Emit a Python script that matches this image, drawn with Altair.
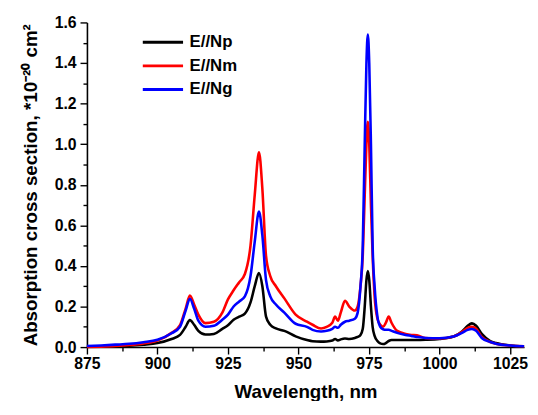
import altair as alt
import pandas as pd

wavelength = [875, 880, 885, 890, 895, 900, 905, 908, 910, 911.5, 913, 914.5, 917,
              920, 923, 925, 927, 929, 931, 933, 934.5, 936, 937.2, 938.5, 940, 942, 945,
              949, 953, 955, 958, 960, 962, 963, 964, 965, 966.5, 968, 970, 971, 972,
              972.8, 973.5, 974.1, 974.6, 975.1, 975.7, 976.3, 977, 978, 979, 980, 981, 982, 983,
              985, 988, 990, 992, 995, 1000, 1005, 1008, 1010, 1011.5, 1013, 1015, 1018, 1020,
              1025, 1030]

np_vals = [.004, .004, .005, .007, .012, .02, .04, .06, .1, .133, .11, .08, .062,
           .065, .09, .108, .135, .15, .165, .22, .3, .365, .3, .15, .11, .092, .08,
           .053, .035, .029, .027, .028, .032, .04, .033, .038, .042, .04, .045, .05, .06,
           .09, .2, .33, .375, .33, .2, .1, .055, .03, .018, .015, .02, .03, .035,
           .035, .035, .035, .035, .036, .04, .052, .077, .105, .117, .105, .065, .03, .02,
           .008, .004]

nm_vals = [.0, .002, .005, .01, .018, .032, .07, .108, .19, .254, .21, .16, .118,
           .125, .17, .235, .28, .32, .36, .5, .75, .96, .78, .45, .35, .3, .24,
           .16, .125, .11, .092, .1, .12, .15, .13, .17, .228, .2, .18, .2, .3,
           .45, .75, 1.0, 1.11, 1.0, .7, .45, .25, .14, .11, .1, .12, .15, .12,
           .08, .065, .06, .058, .045, .042, .052, .075, .095, .1, .09, .05, .025, .017,
           .008, .004]

ng_vals = [.005, .008, .012, .016, .024, .036, .068, .1, .18, .238, .19, .13, .1,
           .105, .135, .16, .2, .225, .25, .35, .52, .668, .55, .33, .25, .21, .17,
           .115, .1, .085, .077, .08, .09, .1, .095, .11, .125, .13, .14, .17, .3,
           .5, 1.0, 1.4, 1.54, 1.4, 1.0, .5, .3, .15, .1, .088, .085, .085, .08,
           .07, .06, .055, .05, .045, .044, .052, .07, .085, .089, .08, .045, .025, .017,
           .008, .004]

series_names = ["E//Np", "E//Nm", "E//Ng"]
series_colors = ["#000000", "#ff0000", "#0000ff"]

x_ticks = [875 + 12.5 * i for i in range(13)]
y_ticks = [round(0.1 * i, 1) for i in range(17)]

rows = []
for name, vals in zip(series_names, [np_vals, nm_vals, ng_vals]):
    for i, (w, v) in enumerate(zip(wavelength, vals)):
        rows.append({"wl": w, "val": v, "series": name, "order": i})
df = pd.DataFrame(rows)

FONT = "Liberation Sans"

chart = alt.Chart(df).mark_line(strokeWidth=2.6, interpolate="monotone").encode(
    x=alt.X("wl:Q", scale=alt.Scale(domain=[875, 1030], nice=False, zero=False),
            axis=alt.Axis(values=x_ticks, title="Wavelength, nm", format="d",
                          labelExpr="datum.value % 25 == 0 ? datum.label : ''",
                          tickSize={"condition": {"test": "datum.value % 25 == 0", "value": 7}, "value": 4},
                          labelFlush=False, labelOverlap=False,
                          grid=False, labelPadding=2, titlePadding=11, titleFontSize=19)),
    y=alt.Y("val:Q", scale=alt.Scale(domain=[0, 1.6], nice=False),
            axis=alt.Axis(values=y_ticks, format=".1f",
                          title="Absorption cross section, *10⁻²⁰ cm²",
                          labelExpr="round(datum.value*10) % 2 == 0 ? datum.label : ''",
                          tickSize={"condition": {"test": "round(datum.value*10) % 2 == 0", "value": 7}, "value": 4},
                          labelFlush=False, labelOverlap=False,
                          grid=False, labelPadding=4, titlePadding=14, titleFontSize=19)),
    color=alt.Color("series:N", scale=alt.Scale(domain=series_names, range=series_colors),
                    legend=alt.Legend(title=None, orient="none", legendX=67, legendY=10,
                                      symbolType="M-2.4,0L2.4,0", symbolSize=289, symbolStrokeWidth=3,
                                      labelFontSize=17, labelFont=FONT, labelFontWeight="bold",
                                      labelColor="black", rowPadding=6, labelOffset=17, padding=0)),
    order=alt.Order("order:Q"),
).properties(
    width=443, height=329,
    autosize=alt.AutoSizeParams(type="none"),
    padding={"left": 80, "top": 12, "right": 6, "bottom": 52},
).configure_view(stroke=None).configure_axis(
    labelFont=FONT, titleFont=FONT, labelFontWeight="bold", titleFontWeight="bold",
    labelFontSize=16, titleFontSize=18, labelColor="black", titleColor="black",
    domainColor="black", tickColor="black", domainWidth=1.6, tickWidth=1.4,
)

chart.save("out.html", embed_options={"renderer": "svg", "actions": False})
